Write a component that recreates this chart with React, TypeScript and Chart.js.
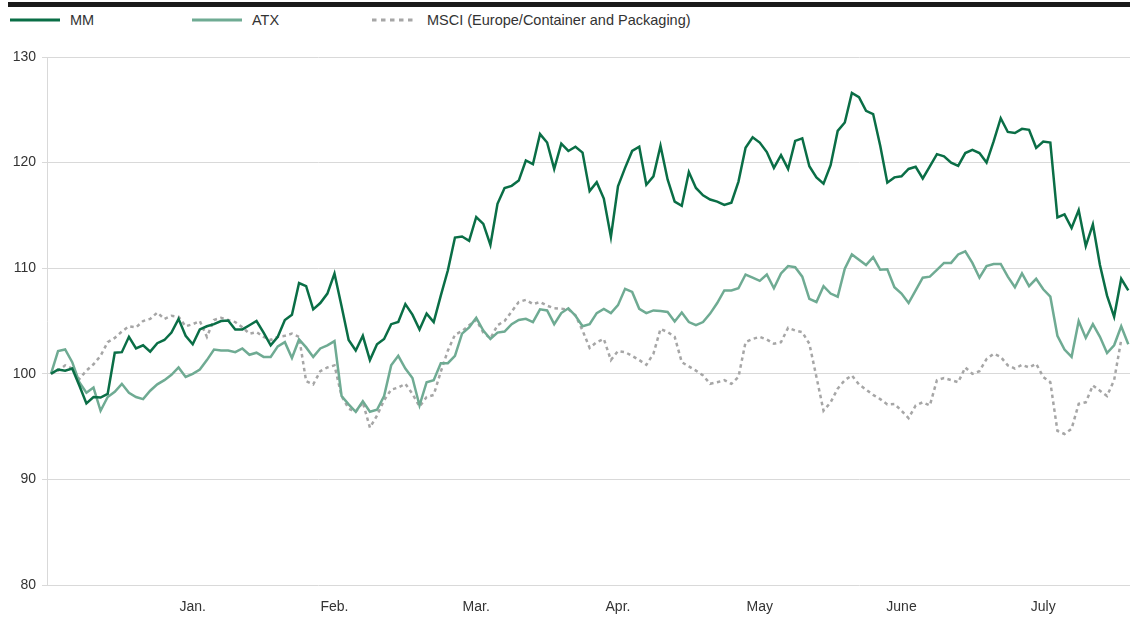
import React, { useEffect, useRef } from "react";
import { Chart, registerables } from "chart.js";

Chart.register(...registerables);

// ---- Data (index-based daily series, rebased to 100) ----
const MM: number[] = [
  100.0, 100.4, 100.3, 100.5, 98.9, 97.2, 97.8, 97.75, 98.1, 102.0,
  102.05, 103.5, 102.4, 102.7, 102.1, 102.9, 103.2, 103.9, 105.2, 103.6,
  102.8, 104.2, 104.5, 104.7, 105.0, 105.05, 104.2, 104.2, 104.6, 105.0,
  103.9, 102.7, 103.5, 105.1, 105.6, 108.6, 108.3, 106.1, 106.7, 107.6,
  109.5, 106.4, 103.2, 102.2, 103.6, 101.3, 102.8, 103.3, 104.7, 104.9,
  106.6, 105.6, 104.2, 105.7, 104.9, 107.4, 109.8, 112.9, 113.0, 112.6,
  114.85, 114.2, 112.2, 116.1, 117.6, 117.8, 118.3, 120.2, 119.85, 122.7,
  121.9, 119.4, 121.8, 121.1, 121.5, 120.95, 117.3, 118.15, 116.6, 112.95,
  117.75, 119.5, 121.1, 121.5, 117.9, 118.7, 121.6, 118.4, 116.3, 115.9,
  119.1, 117.6, 116.9, 116.5, 116.3, 116.0, 116.2, 118.2, 121.4, 122.4,
  121.9, 121.0, 119.5, 120.7, 119.4, 122.05, 122.3, 119.65, 118.6, 118.0,
  119.75, 123.0, 123.8, 126.6, 126.2, 124.9, 124.6, 121.6, 118.1, 118.6,
  118.7, 119.4, 119.6, 118.5, 119.65, 120.8, 120.6, 120.0, 119.7, 120.9,
  121.2, 120.9, 120.0, 122.0, 124.2, 122.9, 122.8, 123.2, 123.1, 121.4,
  122.0, 121.9, 114.8, 115.1, 113.8, 115.5, 112.1, 114.15, 110.3, 107.4,
  105.4, 109.0, 107.9,
];

const ATX: number[] = [
  100.0, 102.15, 102.3, 101.1, 99.2, 98.2, 98.7, 96.5, 97.8, 98.3,
  99.05, 98.2, 97.8, 97.6, 98.4, 99.0, 99.4, 99.9, 100.6, 99.7,
  100.0, 100.4, 101.3, 102.3, 102.2, 102.2, 102.05, 102.4, 101.8, 102.0,
  101.6, 101.6, 102.6, 103.0, 101.5, 103.25, 102.5, 101.6, 102.4, 102.7,
  103.1, 97.9, 97.1, 96.4, 97.4, 96.4, 96.6, 97.9, 100.8, 101.7,
  100.5, 99.6, 97.0, 99.2, 99.4, 101.0, 101.0, 101.7, 103.8, 104.4,
  105.3, 104.1, 103.3, 103.9, 104.0, 104.7, 105.1, 105.2, 104.9, 106.1,
  106.0, 104.7, 105.75, 106.2, 105.5, 104.5, 104.7, 105.75, 106.15, 105.75,
  106.5, 108.05, 107.75, 106.15, 105.75, 106.0, 105.95, 105.85, 104.95, 105.8,
  104.9, 104.6, 104.9, 105.7, 106.7, 107.9, 107.9, 108.1, 109.4, 109.1,
  108.8, 109.4, 108.1, 109.5, 110.2, 110.1, 109.2, 107.1, 106.8, 108.3,
  107.6, 107.3, 109.95, 111.3, 110.8, 110.3, 111.05, 109.85, 109.9, 108.2,
  107.6, 106.7, 107.9, 109.1, 109.2, 109.85, 110.5, 110.5, 111.3, 111.6,
  110.5, 109.1, 110.2, 110.4, 110.4, 109.2, 108.2, 109.5, 108.3, 109.0,
  108.0, 107.3, 103.6, 102.3, 101.6, 105.0, 103.4, 104.7, 103.5, 101.96,
  102.7, 104.5, 102.8,
];

const MSCI: (number | null)[] = [
  100.0, 100.3, 100.8, 100.5, 99.5, 100.3, 100.9, 101.7, 103.0, 103.4,
  104.0, 104.5, 104.4, 105.0, 105.2, 105.8, 105.2, 105.5, 105.4, 104.5,
  104.7, 105.0, 103.5, 105.1, 105.3, 105.1, 104.9, 104.4, 103.8, 103.95,
  103.5, 103.2, 103.5, 103.6, 103.8, 103.5, 99.3, 99.0, 100.25, 100.6,
  100.8, 97.9, 96.7, 96.4, 97.3, 94.9, 96.05, 97.5, 98.5, 98.7,
  99.05, 98.1, 96.9, 97.8, 98.0, 100.2, 102.2, 103.7, 104.05, 104.6,
  105.1, 103.9, 103.35, 104.6, 105.0, 105.9, 106.8, 107.0, 106.6, 106.8,
  106.45, 106.2, 106.15, 106.1, 105.55, 104.1, 102.45, 103.0, 103.3, 101.3,
  102.15, 102.05, 101.7, 101.3, 100.85, 101.9, 104.25, 103.95, 103.5, 101.1,
  100.7, 100.3, 99.85, 99.05, 99.2, 99.4, 99.05, 99.7, 103.0, 103.3,
  103.5, 103.25, 102.85, 103.0, 104.35, 104.1, 103.95, 102.85, 99.7, 96.5,
  97.3, 98.6, 99.4, 99.85, 99.0, 98.5, 98.0, 97.6, 97.1, 97.15,
  96.5, 95.8, 97.0, 97.3, 97.0, 99.4, 99.6, 99.4, 99.2, 100.6,
  100.0, 100.25, 101.4, 101.9, 101.6, 100.8, 100.5, 100.85, 100.6, 100.95,
  99.7, 99.2, 94.6, 94.3, 94.8, 97.15, 97.3, 98.9, 98.4, 97.9,
  99.4, 103.2, null,
];

const SERIES_NAMES = ["MM", "ATX", "MSCI (Europe/Container and Packaging)"];
const MONTH_LABELS = ["Jan.", "Feb.", "Mar.", "Apr.", "May", "June", "July"];
const MONTH_POS = [20, 40, 60, 80, 100, 120, 140];
const Y_TICKS = [80, 90, 100, 110, 120, 130];

// ---- Styles ----
const COLORS = ["#0a6e46", "#6fab93", "#a6a6a6"];
const FONT = "'Liberation Sans', Arial, Helvetica, sans-serif";
const TEXT = "#333333";
const GRID = "#d9d9d9";
const LEGEND_X = [10, 192, 372];

const toPts = (arr: (number | null)[]) => arr.map((v, i) => ({ x: i, y: v }));

function LegendItem({ idx }: { idx: number }) {
  const dashed = idx === 2;
  const w = dashed ? 45 : 50;
  return (
    <div
      style={{
        position: "absolute",
        left: LEGEND_X[idx],
        top: 12,
        height: 16,
        display: "flex",
        alignItems: "center",
        whiteSpace: "nowrap",
      }}
    >
      <svg width={w} height={4} style={{ display: "block" }}>
        <line
          x1={0}
          y1={2}
          x2={w}
          y2={2}
          stroke={COLORS[idx]}
          strokeWidth={3}
          strokeDasharray={dashed ? "4.5 4.5" : undefined}
        />
      </svg>
      <span style={{ marginLeft: 10, fontFamily: FONT, fontSize: 14.5, color: TEXT }}>
        {SERIES_NAMES[idx]}
      </span>
    </div>
  );
}

export default function App() {
  const ref = useRef<HTMLCanvasElement>(null);

  useEffect(() => {
    document.body.style.margin = "0";
    const font = { family: FONT, size: 14 };
    const chart = new Chart(ref.current as HTMLCanvasElement, {
      type: "line",
      data: {
        datasets: [
          {
            label: SERIES_NAMES[0],
            data: toPts(MM),
            borderColor: COLORS[0],
            backgroundColor: COLORS[0],
            borderWidth: 2.5,
            pointRadius: 0,
            tension: 0,
          },
          {
            label: SERIES_NAMES[1],
            data: toPts(ATX),
            borderColor: COLORS[1],
            backgroundColor: COLORS[1],
            borderWidth: 2.5,
            pointRadius: 0,
            tension: 0,
          },
          {
            label: SERIES_NAMES[2],
            data: toPts(MSCI),
            borderColor: COLORS[2],
            backgroundColor: COLORS[2],
            borderWidth: 2.5,
            borderDash: [3.5, 3.5],
            pointRadius: 0,
            tension: 0,
          },
        ],
      } as any,
      options: {
        animation: false,
        responsive: false,
        maintainAspectRatio: false,
        layout: { padding: { top: 57, right: 8, left: 0, bottom: 0 } },
        plugins: { legend: { display: false }, tooltip: { enabled: false } },
        scales: {
          x: {
            type: "linear",
            min: -0.56,
            max: 152.24,
            grid: { display: false, drawTicks: false },
            border: { display: false },
            afterBuildTicks: (s: any) => {
              s.ticks = MONTH_POS.map((v) => ({ value: v }));
            },
            afterFit: (s: any) => {
              s.height = 32;
            },
            ticks: {
              autoSkip: false,
              maxRotation: 0,
              padding: 14,
              color: TEXT,
              font,
              callback: (_v: any, i: number) => MONTH_LABELS[i],
            },
          },
          y: {
            min: 80,
            max: 130,
            afterBuildTicks: (s: any) => {
              s.ticks = Y_TICKS.map((v) => ({ value: v }));
            },
            afterFit: (s: any) => {
              s.width = 47;
            },
            grid: { color: GRID, lineWidth: 1, tickLength: 5, drawTicks: true },
            border: { display: true, color: GRID, width: 1 },
            ticks: { padding: 6, color: TEXT, font },
          },
        },
      } as any,
    });
    return () => chart.destroy();
  }, []);

  return (
    <div style={{ position: "relative", width: 1138, height: 617, background: "#fff" }}>
      <div
        style={{
          position: "absolute",
          left: 8,
          top: 2,
          width: 1122,
          height: 5,
          background: "#1a1a1a",
        }}
      />
      {[0, 1, 2].map((i) => (
        <LegendItem key={i} idx={i} />
      ))}
      <canvas
        ref={ref}
        width={1138}
        height={617}
        style={{ position: "absolute", left: 0, top: 0, width: 1138, height: 617 }}
      />
    </div>
  );
}
